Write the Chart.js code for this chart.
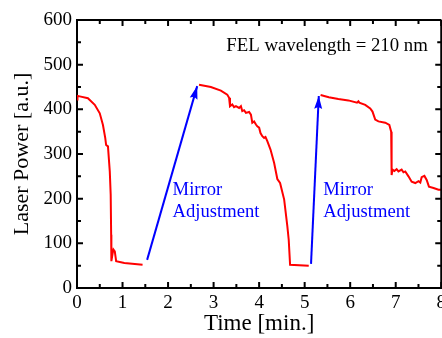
<!DOCTYPE html>
<html>
<head>
<meta charset="utf-8">
<script src="https://cdn.jsdelivr.net/npm/chart.js@4.4.0/dist/chart.umd.min.js"></script>
<style>
  html, body { margin: 0; padding: 0; background: #fff; overflow: hidden; }
  canvas { display: block; }
</style>
</head>
<body>
<canvas id="c" width="450" height="338"></canvas>
<script>
// laser power traces (red), three runs
var time1 = [0, 0.01, 0.06, 0.24, 0.39, 0.5, 0.57, 0.62, 0.64, 0.68, 0.72, 0.74, 0.75, 0.755, 0.79, 0.8, 0.83, 0.86, 1.04, 1.44];
var power1 = [422, 430, 429, 425, 410, 391, 365, 336, 320, 317, 261, 209, 119, 60, 82, 86, 82, 60, 56, 52];

var time2 = [2.68, 2.94, 3.16, 3.3, 3.34, 3.36, 3.41, 3.45, 3.49, 3.56, 3.6, 3.63, 3.67, 3.71, 3.78, 3.82, 3.85, 3.89, 3.93, 3.96, 4.0, 4.03, 4.07, 4.11, 4.14, 4.18, 4.25, 4.33, 4.4, 4.46, 4.55, 4.62, 4.65, 4.68, 5.09];
var power2 = [455, 450, 442, 433, 426, 407, 411, 405, 407, 403, 407, 396, 398, 392, 394, 388, 370, 373, 366, 362, 359, 347, 340, 336, 338, 329, 310, 280, 244, 235, 198, 138, 108, 52, 50];

var time3 = [5.35, 5.53, 5.74, 5.96, 6.15, 6.18, 6.2, 6.33, 6.44, 6.49, 6.55, 6.62, 6.77, 6.86, 6.9, 6.91, 6.93, 6.97, 7.02, 7.06, 7.13, 7.17, 7.21, 7.28, 7.35, 7.43, 7.5, 7.54, 7.57, 7.63, 7.68, 7.73, 7.83, 7.94, 8.0];
var power3 = [432, 427, 423, 420, 415, 418, 415, 410, 402, 395, 377, 373, 370, 365, 350, 253, 265, 262, 266, 261, 265, 259, 261, 250, 238, 235, 239, 236, 248, 251, 242, 227, 224, 220, 220];

// mirror adjustment arrows (blue)
var arrow1Time = [1.54, 2.64];
var arrow1Power = [63, 452];
var arrow2Time = [5.14, 5.31];
var arrow2Power = [54, 430];

// axis ticks
var xTicks = [0, 1, 2, 3, 4, 5, 6, 7, 8];
var yTicks = [0, 100, 200, 300, 400, 500, 600];

// text notes: text, time, power (baseline)
var noteText = ["FEL wavelength = 210 nm", "Mirror", "Adjustment", "Mirror", "Adjustment"];
var noteTime = [3.28, 2.1, 2.1, 5.41, 5.41];
var notePower = [531, 209, 160, 209, 160];
var noteColor = ["#000", "#0000ff", "#0000ff", "#0000ff", "#0000ff"];

function pts(t, p) {
  return t.map(function (v, i) { return { x: v, y: p[i] }; });
}

var serif = "'Liberation Serif', 'Times New Roman', serif";

var frame = {
  id: 'frame',
  afterDraw: function (chart) {
    var ctx = chart.ctx, a = chart.chartArea;
    var sx = chart.scales.x, sy = chart.scales.y;
    ctx.save();
    ctx.strokeStyle = '#000';
    ctx.lineWidth = 2;
    ctx.beginPath();
    ctx.moveTo(a.left - 1, a.top); ctx.lineTo(a.right, a.top);
    ctx.moveTo(a.right, a.top); ctx.lineTo(a.right, a.bottom);
    ctx.stroke();
    ctx.beginPath();
    for (var v = 0; v <= 8.001; v += 0.5) {
      var px = sx.getPixelForValue(v);
      var len = (Math.abs(v - Math.round(v)) < 0.01) ? 6 : 4;
      ctx.moveTo(px, a.bottom); ctx.lineTo(px, a.bottom - len);
      ctx.moveTo(px, a.top); ctx.lineTo(px, a.top + len);
    }
    for (var w = 0; w <= 600; w += 50) {
      var py = sy.getPixelForValue(w);
      var l2 = (w % 100 === 0) ? 6 : 4;
      ctx.moveTo(a.left, py); ctx.lineTo(a.left + l2, py);
      ctx.moveTo(a.right, py); ctx.lineTo(a.right - l2, py);
    }
    ctx.stroke();

    ctx.textBaseline = 'alphabetic';
    ctx.textAlign = 'left';
    noteText.forEach(function (s, i) {
      ctx.fillStyle = noteColor[i];
      ctx.font = (i === 0 ? '18.8px ' : '18.6px ') + serif;
      ctx.fillText(s, sx.getPixelForValue(noteTime[i]), sy.getPixelForValue(notePower[i]));
    });
    ctx.restore();
  },
  afterDatasetsDraw: function (chart) {
    var ctx = chart.ctx;
    chart.data.datasets.forEach(function (ds, i) {
      if (!ds.arrow) return;
      var m = chart.getDatasetMeta(i).data;
      var p1 = m[m.length - 2], p2 = m[m.length - 1];
      var ang = Math.atan2(p2.y - p1.y, p2.x - p1.x);
      var L = 13, W = 4;
      ctx.save();
      ctx.fillStyle = ds.borderColor;
      ctx.translate(p2.x, p2.y);
      ctx.rotate(ang);
      ctx.beginPath();
      ctx.moveTo(0, 0);
      ctx.lineTo(-L, -W);
      ctx.lineTo(-L + 2, 0);
      ctx.lineTo(-L, W);
      ctx.closePath();
      ctx.fill();
      ctx.restore();
    });
  }
};

var red = '#ff0000', blue = '#0000ff';
function line(t, p, color, arrow) {
  return {
    data: pts(t, p),
    borderColor: color,
    backgroundColor: color,
    borderWidth: 2,
    pointRadius: 0,
    tension: 0,
    fill: false,
    arrow: arrow
  };
}

new Chart(document.getElementById('c'), {
  type: 'line',
  data: {
    datasets: [
      line(time1, power1, red, false),
      line(time2, power2, red, false),
      line(time3, power3, red, false),
      line(arrow1Time, arrow1Power, blue, true),
      line(arrow2Time, arrow2Power, blue, true)
    ]
  },
  options: {
    responsive: false,
    devicePixelRatio: 1,
    animation: false,
    layout: { padding: { top: 20, right: 7, left: 0, bottom: 0 } },
    plugins: { legend: { display: false }, tooltip: { enabled: false } },
    scales: {
      x: {
        type: 'linear',
        min: 0, max: 8,
        afterBuildTicks: function (s) { s.ticks = xTicks.map(function (v) { return { value: v }; }); },
        afterFit: function (s) { s.height = 50; },
        grid: { display: false, drawTicks: false },
        border: { display: true, color: '#000', width: 2 },
        ticks: { color: '#000', font: { family: serif, size: 19 }, padding: 4, maxRotation: 0 },
        title: { display: true, text: 'Time [min.]', color: '#000', font: { family: serif, size: 23 }, padding: { top: 0, bottom: 0 } }
      },
      y: {
        min: 0, max: 600,
        afterBuildTicks: function (s) { s.ticks = yTicks.map(function (v) { return { value: v }; }); },
        afterFit: function (s) { s.width = 77; },
        grid: { display: false, drawTicks: false },
        border: { display: true, color: '#000', width: 2 },
        ticks: { color: '#000', font: { family: serif, size: 19 }, padding: 5 },
        title: { display: true, text: 'Laser Power [a.u.]', color: '#000', font: { family: serif, size: 22 }, padding: { top: 9, bottom: 0 } }
      }
    }
  },
  plugins: [frame]
});
</script>
</body>
</html>
